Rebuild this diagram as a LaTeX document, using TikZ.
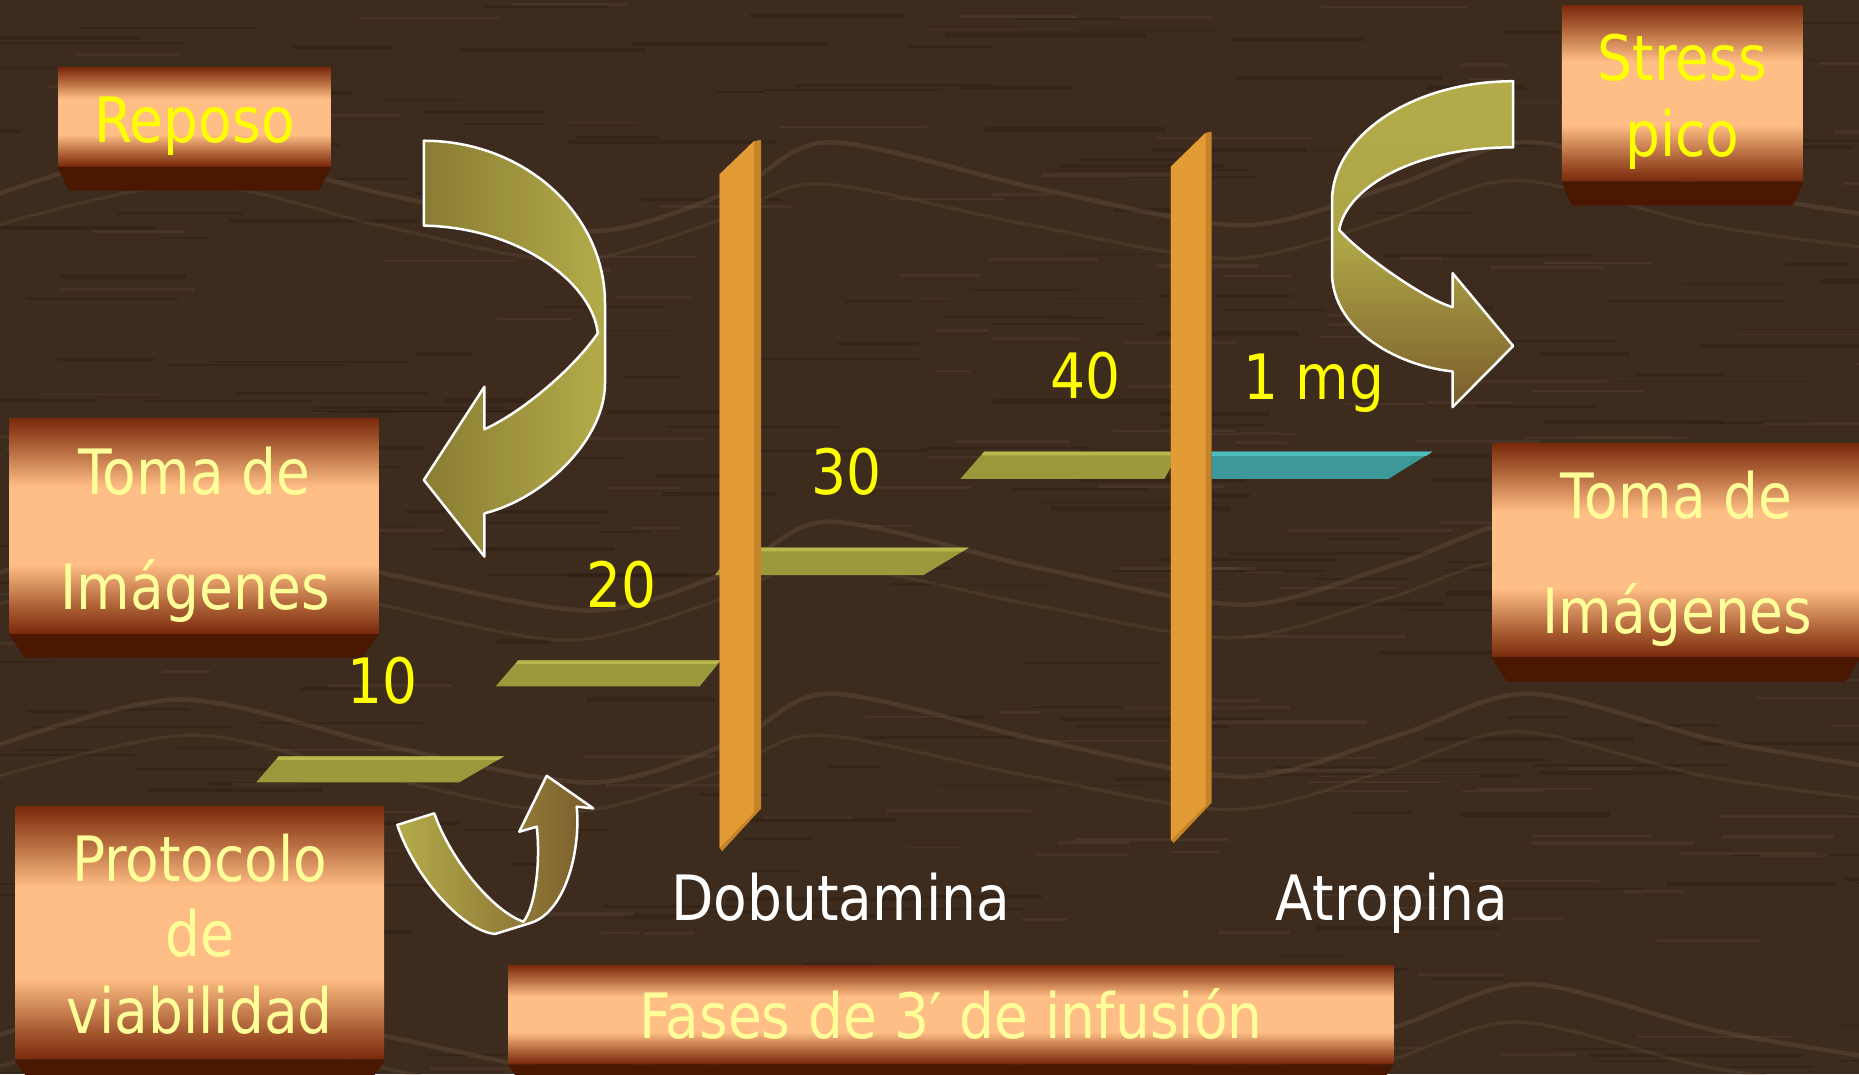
\documentclass[tikz,border=0pt]{standalone}
\usepackage{fontspec}
\setmainfont{DejaVu Sans}[FakeStretch=0.88]
\usetikzlibrary{calc}
\definecolor{bg}{RGB}{61,43,30}
\definecolor{grainlight}{RGB}{120,98,76}
\definecolor{graindark}{RGB}{40,27,18}
\definecolor{boxdark}{RGB}{122,42,12}
\definecolor{boxmid}{RGB}{170,94,52}
\definecolor{boxlight}{RGB}{255,190,133}
\definecolor{bevel}{RGB}{74,24,0}
\definecolor{olive}{RGB}{154,154,60}
\definecolor{olivetop}{RGB}{184,184,76}
\definecolor{tealbar}{RGB}{61,153,153}
\definecolor{tealtop}{RGB}{80,190,190}
\definecolor{orangebar}{RGB}{227,156,53}
\definecolor{orangeside}{RGB}{198,132,42}
\definecolor{txtyellow}{RGB}{255,255,0}
\definecolor{txtpale}{RGB}{255,255,153}
\definecolor{arrdark}{RGB}{138,124,50}
\definecolor{arrlight}{RGB}{180,172,74}
\definecolor{arrbrown}{RGB}{122,92,44}
\pgfdeclareverticalshading{boxshade}{100bp}{color(0bp)=(boxdark); color(25bp)=(boxdark); color(31bp)=(boxmid); color(41bp)=(boxlight); color(59bp)=(boxlight); color(69bp)=(boxmid); color(75bp)=(boxdark); color(100bp)=(boxdark)}
\tikzset{
  boxface/.style={shading=boxshade, inner sep=0pt},
  lbl/.style={anchor=base, inner sep=0pt, font=\fontsize{15}{18}\selectfont},
  ylbl/.style={lbl, text=txtyellow},
  plbl/.style={lbl, text=txtpale},
  wlbl/.style={lbl, text=white},
  arrowshape/.style={draw=white, line width=0.6pt, line join=round},
  barface/.style={fill=olive},
  bartop/.style={fill=olivetop}
}
\begin{document}
\begin{tikzpicture}[x=0.01cm,y=-0.01cm]
\useasboundingbox (0,0) rectangle (1568,906);
\clip (0,0) rectangle (1568,906);
\fill[bg] (0,0) rectangle (1568,906);
% wood grain
\pgfmathsetseed{42}
\foreach \i in {1,...,260}{
  \pgfmathsetmacro{\gx}{rnd*1620-40}
  \pgfmathsetmacro{\gy}{rnd*906}
  \pgfmathsetmacro{\gl}{40+rnd*140}
  \pgfmathsetmacro{\gw}{(1+rnd*3)*0.2845}
  \draw[graindark, opacity=0.35, line width=\gw pt] (\gx,\gy) -- ++(\gl,0);
}
\foreach \i in {1,...,160}{
  \pgfmathsetmacro{\gx}{rnd*1620-40}
  \pgfmathsetmacro{\gy}{rnd*906}
  \pgfmathsetmacro{\gl}{30+rnd*110}
  \pgfmathsetmacro{\gw}{(1+rnd*2)*0.2845}
  \draw[grainlight, opacity=0.18, line width=\gw pt] (\gx,\gy) -- ++(\gl,0);
}
\foreach \yy in {150,470,615,860}{
  \draw[grainlight, opacity=0.28, line width=1.1pt] plot[smooth] coordinates
    {(-20,\yy+20) (150,\yy-25) (330,\yy+15) (500,\yy+45) (620,\yy+10) (700,\yy-30) (880,\yy+10) (1050,\yy+40) (1180,\yy+5) (1290,\yy-30) (1450,\yy+10) (1600,\yy+35)};
  \draw[grainlight, opacity=0.2, line width=0.8pt] plot[smooth] coordinates
    {(-20,\yy+45) (160,\yy+5) (320,\yy+40) (480,\yy+70) (610,\yy+35) (690,\yy+5) (870,\yy+40) (1040,\yy+68) (1170,\yy+35) (1280,\yy+2) (1440,\yy+40) (1600,\yy+62)};
}
% boxes
\node[boxface, minimum width=2.30cm, minimum height=0.83cm] (reposo) at (164,98.5) {};
\fill[bevel] (reposo.south west) -- (reposo.south east) -- ($(reposo.south east)+(-11,20)$) -- ($(reposo.south west)+(10,20)$) -- cycle;
\node[boxface, minimum width=3.11cm, minimum height=1.81cm] (tomaL) at (163.5,443.5) {};
\fill[bevel] (tomaL.south west) -- (tomaL.south east) -- ($(tomaL.south east)+(-14,20)$) -- ($(tomaL.south west)+(14,20)$) -- cycle;
\node[boxface, minimum width=3.11cm, minimum height=2.13cm] (protocolo) at (168.5,786.5) {};
\fill[bevel] (protocolo.south west) -- (protocolo.south east) -- ($(protocolo.south east)+(-14,20)$) -- ($(protocolo.south west)+(14,20)$) -- cycle;
\node[boxface, minimum width=7.46cm, minimum height=0.83cm] (fases) at (802,855.5) {};
\fill[bevel] (fases.south west) -- (fases.south east) -- ($(fases.south east)+(-14,20)$) -- ($(fases.south west)+(14,20)$) -- cycle;
\node[boxface, minimum width=2.03cm, minimum height=1.48cm] (stress) at (1419,78.5) {};
\fill[bevel] (stress.south west) -- (stress.south east) -- ($(stress.south east)+(-9,20)$) -- ($(stress.south west)+(9,20)$) -- cycle;
\node[boxface, minimum width=3.10cm, minimum height=1.795cm] (tomaR) at (1414,464) {};
\fill[bevel] (tomaR.south west) -- (tomaR.south east) -- ($(tomaR.south east)+(-13,20.5)$) -- ($(tomaR.south west)+(13,20.5)$) -- cycle;
% olive steps
\fill[barface] (216,660) -- (235,638) -- (425,638) -- (387,660) -- cycle;
\fill[bartop] (233,641) -- (235,638) -- (425,638) -- (420,641) -- cycle;
\fill[barface] (418,579) -- (437,557) -- (608,557) -- (590,579) -- cycle;
\fill[bartop] (435,560) -- (437,557) -- (608,557) -- (604,560) -- cycle;
\fill[barface] (603,485) -- (621,462) -- (817,462) -- (779,485) -- cycle;
\fill[bartop] (619,465) -- (621,462) -- (817,462) -- (812,465) -- cycle;
\fill[barface] (810,404) -- (830,381) -- (995,381) -- (982,404) -- cycle;
\fill[bartop] (828,384) -- (830,381) -- (995,381) -- (993,384) -- cycle;
% orange bars
\fill[orangeside] (607,147) -- (636,119) -- (642,118) -- (642,682) -- (609,718) -- (607,715) -- cycle;
\fill[orangebar] (607,147) -- (636,119) -- (636,685) -- (607,715) -- cycle;
\fill[orangeside] (987.5,140.6) -- (1017,112) -- (1022,111) -- (1022,677) -- (990,711) -- (987.5,708.5) -- cycle;
\fill[orangebar] (987.5,140.6) -- (1017,112) -- (1017,679) -- (987.5,708.5) -- cycle;
% teal step
\fill[tealbar] (1022,381) -- (1208,381) -- (1171,404) -- (1022,404) -- cycle;
\fill[tealtop] (1022,381) -- (1208,381) -- (1203,384.5) -- (1022,384.5) -- cycle;
% arrow Reposo -> Toma (left)
\shade[arrowshape, left color=arrdark, right color=arrlight]
  (357.5,118.7) .. controls (441.9,118.7) and (510.3,180.1) .. (510.3,255.8)
  -- (510.3,323.3) .. controls (510.3,370) and (460,420) .. (408.6,433)
  -- (408.6,469.5) -- (357.5,404.9) -- (408.6,326.2) -- (408.6,362.1)
  .. controls (443.6,346) and (486,308) .. (504.2,281.1)
  .. controls (500,240) and (440,192) .. (357.5,190.3) -- cycle;
% arrow Stress pico -> Toma (right)
\shade[arrowshape, top color=arrlight, bottom color=arrbrown, middle color=arrlight!85!arrdark]
  (1276.3,68.5) .. controls (1191.9,68.5) and (1123.5,114) .. (1123.5,170)
  -- (1123.5,230) .. controls (1123.5,276) and (1175,308) .. (1225.2,313.3)
  -- (1225.2,343.4) -- (1276.3,291.8) -- (1225.2,230.4) -- (1225.2,259)
  .. controls (1200,252) and (1145,212) .. (1129.6,193.9)
  .. controls (1135,160) and (1190,124) .. (1276.3,124.3) -- cycle;
% small arrow from Protocolo
\shade[arrowshape, left color=arrlight, right color=arrbrown]
  (335.1,695.8) .. controls (350,740) and (390,785) .. (417.5,787.8)
  -- (448.4,778.2) .. controls (478,768) and (490,715) .. (486.4,680.4)
  -- (500.4,681.8) -- (461.1,654.3) -- (438,701.5) -- (452.7,697.3)
  .. controls (456,725) and (452,765) .. (441.4,777.4)
  .. controls (415,768) and (380,725) .. (366.3,686) -- cycle;
% texts
\node[ylbl] (treposo) at (164,120) {Reposo};
\node[plbl] (ttomaL1) at (164,416.8) {Toma de};
\node[plbl] (ttomaL2) at (165,514.5) {Imágenes};
\node[plbl] (tprot1) at (168.5,743.6) {Protocolo};
\node[plbl] (tprot2) at (168.5,806.9) {de};
\node[plbl] (tprot3) at (168.5,871.6) {viabilidad};
\node[plbl] (tfases) at (802,875.6) {Fases de 3′ de infusión};
\node[ylbl] (tstress1) at (1419,67.8) {Stress};
\node[ylbl] (tstress2) at (1419,131.8) {pico};
\node[plbl] (ttomaR1) at (1414,437) {Toma de};
\node[plbl] (ttomaR2) at (1415,534) {Imágenes};
\node[wlbl] (tdob) at (709,776) {Dobutamina};
\node[wlbl] (tatr) at (1174,776) {Atropina};
\node[ylbl] (n10) at (323,593) {10};
\node[ylbl] (n20) at (524,512.5) {20};
\node[ylbl] (n30) at (714,417) {30};
\node[ylbl] (n40) at (916,336) {40};
\node[ylbl] (n1mg) at (1108,337) {1 mg};
\end{tikzpicture}
\end{document}
